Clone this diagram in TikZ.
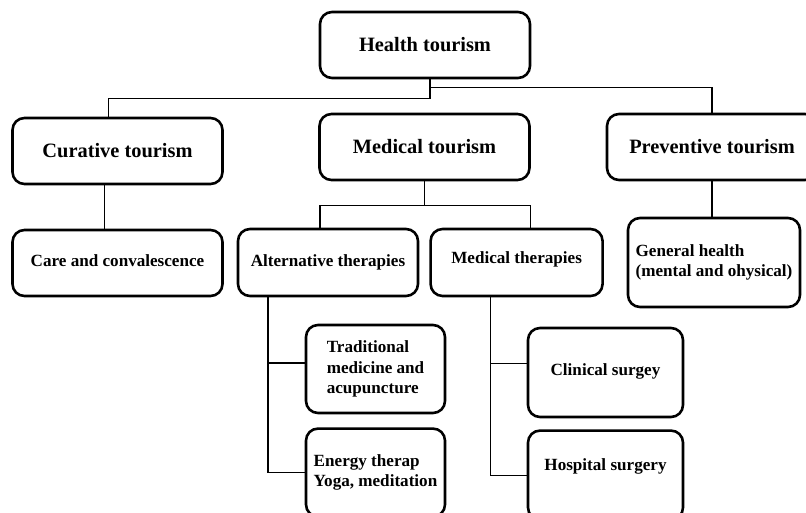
\documentclass[tikz,border=0pt]{standalone}
\usepackage{fontspec}
\setmainfont{Liberation Serif}
\usetikzlibrary{positioning}

\begin{document}
\begin{tikzpicture}[
		x=0.3mm, y=-0.3mm,
		block/.style={draw, line width=2.2pt, rounded corners=3.6mm, align=center, inner sep=2pt},
		big/.style={block, minimum width=63mm, minimum height=19.8mm, font=\fontsize{17.4}{20}\selectfont\bfseries},
		small/.style={block, font=\fontsize{14.6}{17.5}\selectfont\bfseries},
		link/.style={line width=0.9pt},
	]
		\useasboundingbox (0,0) rectangle (806,512);
		\clip (0,0) rectangle (806,512);

		\node[big] (ht) at (425,45) {Health tourism};
		\node[big] (ct) at (117.5,151) {Curative tourism};
		\node[big] (mt) at (424.5,147) {Medical tourism};
		\node[big] (pt) at (712,147) {Preventive tourism};

		\node[small, minimum width=63mm, minimum height=19.8mm, text depth=1.2mm] (cc) at (117.5,263) {Care and convalescence};
		\node[small, minimum width=54mm, minimum height=20.1mm] (at) at (328,262.5) {Alternative therapies};
		\node[small, minimum width=51.6mm, minimum height=20.1mm, text depth=2.9mm, right=3mm of at] (mth) {Medical therapies};
		\node[small, minimum width=51.6mm, minimum height=26.7mm, align=left] (gh) at (714,262.5) {General health\\(mental and ohysical)};

		\node[small, minimum width=41.7mm, minimum height=26.4mm, align=left] (tm) at (375.5,369) {Traditional\\medicine and\\acupuncture};
		\node[small, minimum width=41.7mm, minimum height=26.4mm, align=left, below=3.9mm of tm] (et) {Energy therap\\Yoga, meditation};
		\node[small, minimum width=46.5mm, minimum height=26.7mm, text depth=1.8mm] (cs) at (605.5,372.5) {Clinical surgey};
		\node[small, minimum width=46.5mm, minimum height=26.7mm, text depth=6.5mm, below=3.3mm of cs] (hs) {Hospital surgery};

		\draw[link] ([xshift=1.5mm]ht.south) -- ++(0,19) -| ([xshift=-2.8mm]ct.north);
		\draw[link] ([xshift=1.5mm]ht.south) ++(0,8) -| (pt.north);
		\draw[link] ([xshift=-3.9mm]ct.south) -- ([xshift=-3.9mm]cc.north);
		\draw[link] (mt.south) -- ++(0,24) coordinate (mfork);
		\draw[link] ([xshift=-2.4mm]at.north) |- (mfork) -| ([xshift=4.2mm]mth.north);
		\draw[link] (pt.south) -- (pt.south |- gh.north);

		\draw[link] ([xshift=-18mm]at.south) coordinate (astem) |- (et.west);
		\draw[link] ([yshift=1.8mm]tm.west) -- ([yshift=1.8mm]tm.west -| astem);
		\draw[link] ([xshift=-7.8mm]mth.south) coordinate (mstem) |- (hs.west);
		\draw[link] ([yshift=2.8mm]cs.west) -- ([yshift=2.8mm]cs.west -| mstem);
	\end{tikzpicture}
\end{document}
